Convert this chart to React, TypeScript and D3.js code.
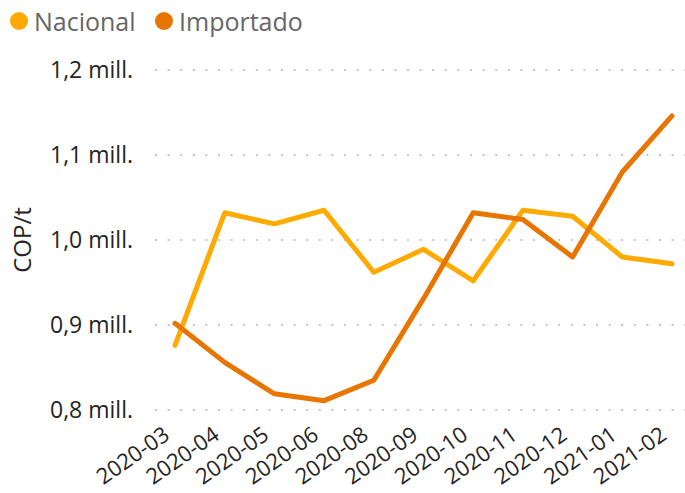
import React from "react";
import * as d3 from "d3";

const categories = ["2020-03","2020-04","2020-05","2020-06","2020-08","2020-09","2020-10","2020-11","2020-12","2021-01","2021-02"];
const nacional = [0.876, 1.032, 1.019, 1.035, 0.962, 0.989, 0.952, 1.035, 1.028, 0.980, 0.972];
const importado = [0.902, 0.856, 0.819, 0.811, 0.835, 0.931, 1.032, 1.024, 0.980, 1.080, 1.146];
const yTicks = [0.8, 0.9, 1.0, 1.1, 1.2];
const seriesNames = ["Nacional", "Importado"];
const colors = ["#FFAA00", "#E87500"];

const W = 685, H = 493;
const FONT = "'Open Sans', 'Noto Sans', sans-serif";

export default function App() {
  const x = d3.scalePoint<string>().domain(categories).range([175, 672]);
  const y = d3.scaleLinear().domain([0.8, 1.2]).range([410, 70]);
  const line = d3.line<number>()
    .x((_, i) => x(categories[i]) as number)
    .y((d) => y(d));
  const series = [nacional, importado];
  const fmt = (v: number) => v.toFixed(1).replace(".", ",") + " mill.";
  const legendX = [19, 164];

  return (
    <svg width={W} height={H} style={{ position: "absolute", left: 0, top: 0, background: "#fff" }} fontFamily={FONT}>
      {/* legend */}
      {seriesNames.map((n, i) => (
        <g key={n}>
          <circle cx={legendX[i]} cy={21} r={9} fill={colors[i]} />
          <text x={legendX[i] + 15} y={31} fontSize={25} fill="#666666">{n}</text>
        </g>
      ))}
      {/* gridlines */}
      {yTicks.map((t) => (
        <g key={t}>
          <line x1={155} x2={685} y1={y(t)} y2={y(t)} stroke="#c8c6c4" strokeWidth={2} strokeDasharray="2,10.6" />
          <text x={133} y={y(t)} dy="0.35em" textAnchor="end" fontSize={23} fill="#252423">{fmt(t)}</text>
        </g>
      ))}
      {/* y title */}
      <text transform={`translate(31,240) rotate(-90)`} textAnchor="middle" fontSize={24} fill="#252423">COP/t</text>
      {/* x labels */}
      {categories.map((c) => (
        <text key={c} transform={`translate(${(x(c) as number) - 4},438) rotate(-35)`} textAnchor="end" fontSize={22} fill="#252423">{c}</text>
      ))}
      {/* lines */}
      {series.map((s, i) => (
        <path key={i} d={line(s) || ""} fill="none" stroke={colors[i]} strokeWidth={5} strokeLinecap="round" strokeLinejoin="round" />
      ))}
    </svg>
  );
}
